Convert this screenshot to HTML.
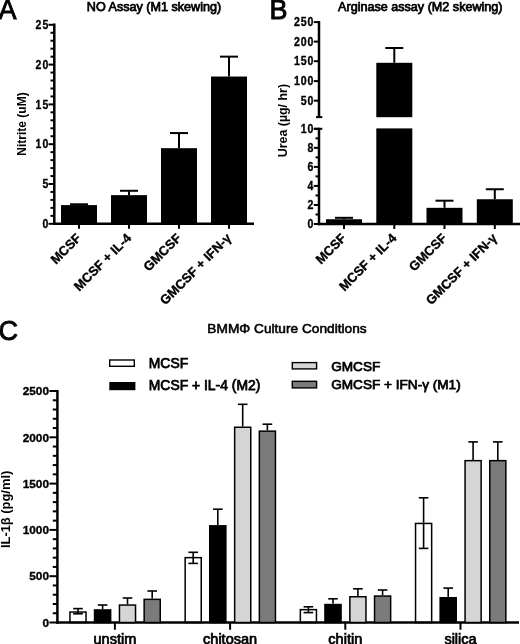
<!DOCTYPE html>
<html><head><meta charset="utf-8"><style>
html,body{margin:0;padding:0;background:#fff;width:520px;height:644px;overflow:hidden}
svg{display:block;filter:grayscale(1)}
text{font-family:"Liberation Sans",sans-serif;fill:#000}
</style></head><body>
<svg width="520" height="644" viewBox="0 0 520 644">
<text x="-1.50" y="18.50" font-size="27" font-weight="400" text-anchor="start" stroke="#000" stroke-width="0.9">A</text>
<text x="269.50" y="18.80" font-size="27" font-weight="400" text-anchor="start" stroke="#000" stroke-width="0.9">B</text>
<text x="-1.50" y="340.10" font-size="27" font-weight="400" text-anchor="start" stroke="#000" stroke-width="0.9">C</text>
<text x="154.00" y="10.70" font-size="12.6" font-weight="400" text-anchor="middle" stroke="#000" stroke-width="0.75">NO Assay (M1 skewing)</text>
<text x="420.30" y="10.70" font-size="12.6" font-weight="400" text-anchor="middle" stroke="#000" stroke-width="0.75">Arginase assay (M2 skewing)</text>
<text x="287.00" y="333.40" font-size="13.7" font-weight="400" text-anchor="middle" stroke="#000" stroke-width="0.6">BMMΦ Culture Conditions</text>
<line x1="54.30" y1="23.50" x2="54.30" y2="225.00" stroke="#000" stroke-width="2.5"/>
<line x1="53.10" y1="223.80" x2="254.00" y2="223.80" stroke="#000" stroke-width="2.5"/>
<line x1="48.50" y1="223.80" x2="54.30" y2="223.80" stroke="#000" stroke-width="2"/>
<text x="0" y="0" font-size="12.2" font-weight="700" text-anchor="end" letter-spacing="1.4" transform="translate(49.60,228.05) scale(0.86,1)" stroke="#000" stroke-width="0.35">0</text>
<line x1="50.50" y1="215.84" x2="54.30" y2="215.84" stroke="#000" stroke-width="2"/>
<line x1="50.50" y1="207.88" x2="54.30" y2="207.88" stroke="#000" stroke-width="2"/>
<line x1="50.50" y1="199.92" x2="54.30" y2="199.92" stroke="#000" stroke-width="2"/>
<line x1="50.50" y1="191.96" x2="54.30" y2="191.96" stroke="#000" stroke-width="2"/>
<line x1="48.50" y1="184.00" x2="54.30" y2="184.00" stroke="#000" stroke-width="2"/>
<text x="0" y="0" font-size="12.2" font-weight="700" text-anchor="end" letter-spacing="1.4" transform="translate(49.60,188.25) scale(0.86,1)" stroke="#000" stroke-width="0.35">5</text>
<line x1="50.50" y1="176.04" x2="54.30" y2="176.04" stroke="#000" stroke-width="2"/>
<line x1="50.50" y1="168.08" x2="54.30" y2="168.08" stroke="#000" stroke-width="2"/>
<line x1="50.50" y1="160.12" x2="54.30" y2="160.12" stroke="#000" stroke-width="2"/>
<line x1="50.50" y1="152.16" x2="54.30" y2="152.16" stroke="#000" stroke-width="2"/>
<line x1="48.50" y1="144.20" x2="54.30" y2="144.20" stroke="#000" stroke-width="2"/>
<text x="0" y="0" font-size="12.2" font-weight="700" text-anchor="end" letter-spacing="1.4" transform="translate(49.60,148.45) scale(0.86,1)" stroke="#000" stroke-width="0.35">10</text>
<line x1="50.50" y1="136.24" x2="54.30" y2="136.24" stroke="#000" stroke-width="2"/>
<line x1="50.50" y1="128.28" x2="54.30" y2="128.28" stroke="#000" stroke-width="2"/>
<line x1="50.50" y1="120.32" x2="54.30" y2="120.32" stroke="#000" stroke-width="2"/>
<line x1="50.50" y1="112.36" x2="54.30" y2="112.36" stroke="#000" stroke-width="2"/>
<line x1="48.50" y1="104.40" x2="54.30" y2="104.40" stroke="#000" stroke-width="2"/>
<text x="0" y="0" font-size="12.2" font-weight="700" text-anchor="end" letter-spacing="1.4" transform="translate(49.60,108.65) scale(0.86,1)" stroke="#000" stroke-width="0.35">15</text>
<line x1="50.50" y1="96.44" x2="54.30" y2="96.44" stroke="#000" stroke-width="2"/>
<line x1="50.50" y1="88.48" x2="54.30" y2="88.48" stroke="#000" stroke-width="2"/>
<line x1="50.50" y1="80.52" x2="54.30" y2="80.52" stroke="#000" stroke-width="2"/>
<line x1="50.50" y1="72.56" x2="54.30" y2="72.56" stroke="#000" stroke-width="2"/>
<line x1="48.50" y1="64.60" x2="54.30" y2="64.60" stroke="#000" stroke-width="2"/>
<text x="0" y="0" font-size="12.2" font-weight="700" text-anchor="end" letter-spacing="1.4" transform="translate(49.60,68.85) scale(0.86,1)" stroke="#000" stroke-width="0.35">20</text>
<line x1="50.50" y1="56.64" x2="54.30" y2="56.64" stroke="#000" stroke-width="2"/>
<line x1="50.50" y1="48.68" x2="54.30" y2="48.68" stroke="#000" stroke-width="2"/>
<line x1="50.50" y1="40.72" x2="54.30" y2="40.72" stroke="#000" stroke-width="2"/>
<line x1="50.50" y1="32.76" x2="54.30" y2="32.76" stroke="#000" stroke-width="2"/>
<line x1="48.50" y1="24.80" x2="54.30" y2="24.80" stroke="#000" stroke-width="2"/>
<text x="0" y="0" font-size="12.2" font-weight="700" text-anchor="end" letter-spacing="1.4" transform="translate(49.60,29.05) scale(0.86,1)" stroke="#000" stroke-width="0.35">25</text>
<line x1="79.00" y1="204.30" x2="79.00" y2="205.09" stroke="#000" stroke-width="2"/>
<line x1="70.00" y1="204.30" x2="88.00" y2="204.30" stroke="#000" stroke-width="2"/>
<rect x="61.00" y="205.09" width="36.00" height="18.71" fill="#000"/>
<line x1="79.00" y1="223.80" x2="79.00" y2="228.80" stroke="#000" stroke-width="2"/>
<line x1="129.00" y1="190.77" x2="129.00" y2="195.14" stroke="#000" stroke-width="2"/>
<line x1="120.00" y1="190.77" x2="138.00" y2="190.77" stroke="#000" stroke-width="2"/>
<rect x="111.00" y="195.14" width="36.00" height="28.66" fill="#000"/>
<line x1="129.00" y1="223.80" x2="129.00" y2="228.80" stroke="#000" stroke-width="2"/>
<line x1="179.00" y1="133.06" x2="179.00" y2="148.18" stroke="#000" stroke-width="2"/>
<line x1="170.00" y1="133.06" x2="188.00" y2="133.06" stroke="#000" stroke-width="2"/>
<rect x="161.00" y="148.18" width="36.00" height="75.62" fill="#000"/>
<line x1="179.00" y1="223.80" x2="179.00" y2="228.80" stroke="#000" stroke-width="2"/>
<line x1="229.00" y1="56.64" x2="229.00" y2="76.54" stroke="#000" stroke-width="2"/>
<line x1="220.00" y1="56.64" x2="238.00" y2="56.64" stroke="#000" stroke-width="2"/>
<rect x="211.00" y="76.54" width="36.00" height="147.26" fill="#000"/>
<line x1="229.00" y1="223.80" x2="229.00" y2="228.80" stroke="#000" stroke-width="2"/>
<text x="0.00" y="0.00" font-size="13" font-weight="700" text-anchor="end" stroke="#000" stroke-width="0.35" transform="translate(82.0,238.8) rotate(-45)">MCSF</text>
<text x="0.00" y="0.00" font-size="13" font-weight="700" text-anchor="end" stroke="#000" stroke-width="0.35" transform="translate(132.0,238.8) rotate(-45)">MCSF + IL-4</text>
<text x="0.00" y="0.00" font-size="13" font-weight="700" text-anchor="end" stroke="#000" stroke-width="0.35" transform="translate(182.0,238.8) rotate(-45)">GMCSF</text>
<text x="0.00" y="0.00" font-size="13" font-weight="700" text-anchor="end" stroke="#000" stroke-width="0.35" transform="translate(232.0,238.8) rotate(-45)">GMCSF + IFN-γ</text>
<text x="0.00" y="0.00" font-size="12" font-weight="700" text-anchor="middle" transform="translate(26.2,124) rotate(-90)">Nitrite (uM)</text>
<line x1="319.00" y1="21.10" x2="319.00" y2="117.10" stroke="#000" stroke-width="2.5"/>
<line x1="316.00" y1="117.10" x2="322.30" y2="117.10" stroke="#000" stroke-width="2"/>
<line x1="313.80" y1="22.10" x2="319.00" y2="22.10" stroke="#000" stroke-width="2"/>
<text x="0" y="0" font-size="12.0" font-weight="700" text-anchor="end" letter-spacing="1.0" transform="translate(314.28,26.20) scale(0.88,1)" stroke="#000" stroke-width="0.35">250</text>
<line x1="313.80" y1="41.60" x2="319.00" y2="41.60" stroke="#000" stroke-width="2"/>
<text x="0" y="0" font-size="12.0" font-weight="700" text-anchor="end" letter-spacing="1.0" transform="translate(314.28,45.70) scale(0.88,1)" stroke="#000" stroke-width="0.35">200</text>
<line x1="313.80" y1="61.20" x2="319.00" y2="61.20" stroke="#000" stroke-width="2"/>
<text x="0" y="0" font-size="12.0" font-weight="700" text-anchor="end" letter-spacing="1.0" transform="translate(314.28,65.30) scale(0.88,1)" stroke="#000" stroke-width="0.35">150</text>
<line x1="313.80" y1="81.10" x2="319.00" y2="81.10" stroke="#000" stroke-width="2"/>
<text x="0" y="0" font-size="12.0" font-weight="700" text-anchor="end" letter-spacing="1.0" transform="translate(314.28,85.20) scale(0.88,1)" stroke="#000" stroke-width="0.35">100</text>
<line x1="313.80" y1="100.70" x2="319.00" y2="100.70" stroke="#000" stroke-width="2"/>
<text x="0" y="0" font-size="12.0" font-weight="700" text-anchor="end" letter-spacing="1.0" transform="translate(314.28,104.80) scale(0.88,1)" stroke="#000" stroke-width="0.35">50</text>
<line x1="319.00" y1="127.80" x2="319.00" y2="225.20" stroke="#000" stroke-width="2.5"/>
<line x1="313.80" y1="128.80" x2="322.30" y2="128.80" stroke="#000" stroke-width="2"/>
<line x1="317.80" y1="224.00" x2="520.00" y2="224.00" stroke="#000" stroke-width="2.5"/>
<line x1="313.80" y1="224.00" x2="319.00" y2="224.00" stroke="#000" stroke-width="2"/>
<text x="0" y="0" font-size="12.0" font-weight="700" text-anchor="end" letter-spacing="1.0" transform="translate(314.28,228.10) scale(0.88,1)" stroke="#000" stroke-width="0.35">0</text>
<line x1="315.50" y1="214.48" x2="319.00" y2="214.48" stroke="#000" stroke-width="2"/>
<line x1="313.80" y1="204.96" x2="319.00" y2="204.96" stroke="#000" stroke-width="2"/>
<text x="0" y="0" font-size="12.0" font-weight="700" text-anchor="end" letter-spacing="1.0" transform="translate(314.28,209.06) scale(0.88,1)" stroke="#000" stroke-width="0.35">2</text>
<line x1="315.50" y1="195.44" x2="319.00" y2="195.44" stroke="#000" stroke-width="2"/>
<line x1="313.80" y1="185.92" x2="319.00" y2="185.92" stroke="#000" stroke-width="2"/>
<text x="0" y="0" font-size="12.0" font-weight="700" text-anchor="end" letter-spacing="1.0" transform="translate(314.28,190.02) scale(0.88,1)" stroke="#000" stroke-width="0.35">4</text>
<line x1="315.50" y1="176.40" x2="319.00" y2="176.40" stroke="#000" stroke-width="2"/>
<line x1="313.80" y1="166.88" x2="319.00" y2="166.88" stroke="#000" stroke-width="2"/>
<text x="0" y="0" font-size="12.0" font-weight="700" text-anchor="end" letter-spacing="1.0" transform="translate(314.28,170.98) scale(0.88,1)" stroke="#000" stroke-width="0.35">6</text>
<line x1="315.50" y1="157.36" x2="319.00" y2="157.36" stroke="#000" stroke-width="2"/>
<line x1="313.80" y1="147.84" x2="319.00" y2="147.84" stroke="#000" stroke-width="2"/>
<text x="0" y="0" font-size="12.0" font-weight="700" text-anchor="end" letter-spacing="1.0" transform="translate(314.28,151.94) scale(0.88,1)" stroke="#000" stroke-width="0.35">8</text>
<line x1="315.50" y1="138.32" x2="319.00" y2="138.32" stroke="#000" stroke-width="2"/>
<line x1="313.80" y1="128.80" x2="319.00" y2="128.80" stroke="#000" stroke-width="2"/>
<text x="0" y="0" font-size="12.0" font-weight="700" text-anchor="end" letter-spacing="1.0" transform="translate(314.28,132.90) scale(0.88,1)" stroke="#000" stroke-width="0.35">10</text>
<line x1="344.00" y1="217.81" x2="344.00" y2="219.24" stroke="#000" stroke-width="2"/>
<line x1="335.00" y1="217.81" x2="353.00" y2="217.81" stroke="#000" stroke-width="2"/>
<rect x="326.00" y="219.24" width="36.00" height="4.76" fill="#000"/>
<line x1="444.50" y1="200.68" x2="444.50" y2="207.82" stroke="#000" stroke-width="2"/>
<line x1="435.50" y1="200.68" x2="453.50" y2="200.68" stroke="#000" stroke-width="2"/>
<rect x="426.50" y="207.82" width="36.00" height="16.18" fill="#000"/>
<line x1="494.80" y1="189.25" x2="494.80" y2="199.25" stroke="#000" stroke-width="2"/>
<line x1="485.80" y1="189.25" x2="503.80" y2="189.25" stroke="#000" stroke-width="2"/>
<rect x="476.80" y="199.25" width="36.00" height="24.75" fill="#000"/>
<line x1="394.30" y1="48.00" x2="394.30" y2="62.80" stroke="#000" stroke-width="2"/>
<line x1="385.30" y1="48.00" x2="403.30" y2="48.00" stroke="#000" stroke-width="2"/>
<rect x="376.30" y="62.80" width="36.00" height="54.40" fill="#000"/>
<rect x="376.30" y="128.40" width="36.00" height="95.60" fill="#000"/>
<line x1="344.00" y1="224.00" x2="344.00" y2="229.00" stroke="#000" stroke-width="2"/>
<line x1="394.30" y1="224.00" x2="394.30" y2="229.00" stroke="#000" stroke-width="2"/>
<line x1="444.50" y1="224.00" x2="444.50" y2="229.00" stroke="#000" stroke-width="2"/>
<line x1="494.80" y1="224.00" x2="494.80" y2="229.00" stroke="#000" stroke-width="2"/>
<text x="0.00" y="0.00" font-size="13" font-weight="700" text-anchor="end" stroke="#000" stroke-width="0.35" transform="translate(347.0,238.8) rotate(-45)">MCSF</text>
<text x="0.00" y="0.00" font-size="13" font-weight="700" text-anchor="end" stroke="#000" stroke-width="0.35" transform="translate(397.3,238.8) rotate(-45)">MCSF + IL-4</text>
<text x="0.00" y="0.00" font-size="13" font-weight="700" text-anchor="end" stroke="#000" stroke-width="0.35" transform="translate(447.5,238.8) rotate(-45)">GMCSF</text>
<text x="0.00" y="0.00" font-size="13" font-weight="700" text-anchor="end" stroke="#000" stroke-width="0.35" transform="translate(497.8,238.8) rotate(-45)">GMCSF + IFN-γ</text>
<text x="0.00" y="0.00" font-size="12.4" font-weight="700" text-anchor="middle" transform="translate(286.8,120.6) rotate(-90)">Urea (µg/ hr)</text>
<line x1="57.40" y1="390.00" x2="57.40" y2="623.70" stroke="#000" stroke-width="2.5"/>
<line x1="56.20" y1="622.50" x2="519.00" y2="622.50" stroke="#000" stroke-width="2.5"/>
<line x1="49.40" y1="622.50" x2="57.40" y2="622.50" stroke="#000" stroke-width="2"/>
<text x="49.00" y="626.70" font-size="11.8" font-weight="700" text-anchor="end" stroke="#000" stroke-width="0.35">0</text>
<line x1="52.80" y1="613.24" x2="57.40" y2="613.24" stroke="#000" stroke-width="2"/>
<line x1="52.80" y1="603.98" x2="57.40" y2="603.98" stroke="#000" stroke-width="2"/>
<line x1="52.80" y1="594.72" x2="57.40" y2="594.72" stroke="#000" stroke-width="2"/>
<line x1="52.80" y1="585.46" x2="57.40" y2="585.46" stroke="#000" stroke-width="2"/>
<line x1="49.40" y1="576.20" x2="57.40" y2="576.20" stroke="#000" stroke-width="2"/>
<text x="49.00" y="580.40" font-size="11.8" font-weight="700" text-anchor="end" stroke="#000" stroke-width="0.35">500</text>
<line x1="52.80" y1="566.94" x2="57.40" y2="566.94" stroke="#000" stroke-width="2"/>
<line x1="52.80" y1="557.68" x2="57.40" y2="557.68" stroke="#000" stroke-width="2"/>
<line x1="52.80" y1="548.42" x2="57.40" y2="548.42" stroke="#000" stroke-width="2"/>
<line x1="52.80" y1="539.16" x2="57.40" y2="539.16" stroke="#000" stroke-width="2"/>
<line x1="49.40" y1="529.90" x2="57.40" y2="529.90" stroke="#000" stroke-width="2"/>
<text x="49.00" y="534.10" font-size="11.8" font-weight="700" text-anchor="end" stroke="#000" stroke-width="0.35">1000</text>
<line x1="52.80" y1="520.64" x2="57.40" y2="520.64" stroke="#000" stroke-width="2"/>
<line x1="52.80" y1="511.38" x2="57.40" y2="511.38" stroke="#000" stroke-width="2"/>
<line x1="52.80" y1="502.12" x2="57.40" y2="502.12" stroke="#000" stroke-width="2"/>
<line x1="52.80" y1="492.86" x2="57.40" y2="492.86" stroke="#000" stroke-width="2"/>
<line x1="49.40" y1="483.60" x2="57.40" y2="483.60" stroke="#000" stroke-width="2"/>
<text x="49.00" y="487.80" font-size="11.8" font-weight="700" text-anchor="end" stroke="#000" stroke-width="0.35">1500</text>
<line x1="52.80" y1="474.34" x2="57.40" y2="474.34" stroke="#000" stroke-width="2"/>
<line x1="52.80" y1="465.08" x2="57.40" y2="465.08" stroke="#000" stroke-width="2"/>
<line x1="52.80" y1="455.82" x2="57.40" y2="455.82" stroke="#000" stroke-width="2"/>
<line x1="52.80" y1="446.56" x2="57.40" y2="446.56" stroke="#000" stroke-width="2"/>
<line x1="49.40" y1="437.30" x2="57.40" y2="437.30" stroke="#000" stroke-width="2"/>
<text x="49.00" y="441.50" font-size="11.8" font-weight="700" text-anchor="end" stroke="#000" stroke-width="0.35">2000</text>
<line x1="52.80" y1="428.04" x2="57.40" y2="428.04" stroke="#000" stroke-width="2"/>
<line x1="52.80" y1="418.78" x2="57.40" y2="418.78" stroke="#000" stroke-width="2"/>
<line x1="52.80" y1="409.52" x2="57.40" y2="409.52" stroke="#000" stroke-width="2"/>
<line x1="52.80" y1="400.26" x2="57.40" y2="400.26" stroke="#000" stroke-width="2"/>
<line x1="49.40" y1="391.00" x2="57.40" y2="391.00" stroke="#000" stroke-width="2"/>
<text x="49.00" y="395.20" font-size="11.8" font-weight="700" text-anchor="end" stroke="#000" stroke-width="0.35">2500</text>
<line x1="78.00" y1="608.60" x2="78.00" y2="611.30" stroke="#000" stroke-width="1.6"/>
<line x1="73.20" y1="608.60" x2="82.80" y2="608.60" stroke="#000" stroke-width="1.6"/>
<line x1="78.00" y1="611.30" x2="78.00" y2="613.80" stroke="#000" stroke-width="1.6"/>
<line x1="73.20" y1="613.80" x2="82.80" y2="613.80" stroke="#000" stroke-width="1.6"/>
<rect x="69.95" y="612.05" width="16.10" height="10.45" fill="none" stroke="#000" stroke-width="1.5"/>
<line x1="102.60" y1="605.00" x2="102.60" y2="609.20" stroke="#000" stroke-width="1.6"/>
<line x1="97.80" y1="605.00" x2="107.40" y2="605.00" stroke="#000" stroke-width="1.6"/>
<rect x="94.55" y="609.95" width="16.10" height="12.55" fill="#000" stroke="#000" stroke-width="1.5"/>
<line x1="127.50" y1="598.00" x2="127.50" y2="604.30" stroke="#000" stroke-width="1.6"/>
<line x1="122.70" y1="598.00" x2="132.30" y2="598.00" stroke="#000" stroke-width="1.6"/>
<rect x="119.45" y="605.05" width="16.10" height="17.45" fill="#d5d5d5" stroke="#000" stroke-width="1.5"/>
<line x1="152.20" y1="591.00" x2="152.20" y2="598.60" stroke="#000" stroke-width="1.6"/>
<line x1="147.40" y1="591.00" x2="157.00" y2="591.00" stroke="#000" stroke-width="1.6"/>
<rect x="144.15" y="599.35" width="16.10" height="23.15" fill="#7b7b7b" stroke="#000" stroke-width="1.5"/>
<line x1="114.90" y1="622.50" x2="114.90" y2="629.70" stroke="#000" stroke-width="2"/>
<line x1="193.20" y1="552.30" x2="193.20" y2="556.90" stroke="#000" stroke-width="1.6"/>
<line x1="188.40" y1="552.30" x2="198.00" y2="552.30" stroke="#000" stroke-width="1.6"/>
<line x1="193.20" y1="556.90" x2="193.20" y2="563.40" stroke="#000" stroke-width="1.6"/>
<line x1="188.40" y1="563.40" x2="198.00" y2="563.40" stroke="#000" stroke-width="1.6"/>
<rect x="185.15" y="557.65" width="16.10" height="64.85" fill="none" stroke="#000" stroke-width="1.5"/>
<line x1="217.80" y1="509.20" x2="217.80" y2="525.10" stroke="#000" stroke-width="1.6"/>
<line x1="213.00" y1="509.20" x2="222.60" y2="509.20" stroke="#000" stroke-width="1.6"/>
<rect x="209.75" y="525.85" width="16.10" height="96.65" fill="#000" stroke="#000" stroke-width="1.5"/>
<line x1="242.70" y1="404.30" x2="242.70" y2="426.50" stroke="#000" stroke-width="1.6"/>
<line x1="237.90" y1="404.30" x2="247.50" y2="404.30" stroke="#000" stroke-width="1.6"/>
<rect x="234.65" y="427.25" width="16.10" height="195.25" fill="#d5d5d5" stroke="#000" stroke-width="1.5"/>
<line x1="267.40" y1="424.20" x2="267.40" y2="430.40" stroke="#000" stroke-width="1.6"/>
<line x1="262.60" y1="424.20" x2="272.20" y2="424.20" stroke="#000" stroke-width="1.6"/>
<rect x="259.35" y="431.15" width="16.10" height="191.35" fill="#7b7b7b" stroke="#000" stroke-width="1.5"/>
<line x1="230.10" y1="622.50" x2="230.10" y2="629.70" stroke="#000" stroke-width="2"/>
<line x1="308.40" y1="606.80" x2="308.40" y2="608.90" stroke="#000" stroke-width="1.6"/>
<line x1="303.60" y1="606.80" x2="313.20" y2="606.80" stroke="#000" stroke-width="1.6"/>
<line x1="308.40" y1="608.90" x2="308.40" y2="612.60" stroke="#000" stroke-width="1.6"/>
<line x1="303.60" y1="612.60" x2="313.20" y2="612.60" stroke="#000" stroke-width="1.6"/>
<rect x="300.35" y="609.65" width="16.10" height="12.85" fill="none" stroke="#000" stroke-width="1.5"/>
<line x1="333.00" y1="598.80" x2="333.00" y2="603.80" stroke="#000" stroke-width="1.6"/>
<line x1="328.20" y1="598.80" x2="337.80" y2="598.80" stroke="#000" stroke-width="1.6"/>
<rect x="324.95" y="604.55" width="16.10" height="17.95" fill="#000" stroke="#000" stroke-width="1.5"/>
<line x1="357.90" y1="588.80" x2="357.90" y2="596.00" stroke="#000" stroke-width="1.6"/>
<line x1="353.10" y1="588.80" x2="362.70" y2="588.80" stroke="#000" stroke-width="1.6"/>
<rect x="349.85" y="596.75" width="16.10" height="25.75" fill="#d5d5d5" stroke="#000" stroke-width="1.5"/>
<line x1="382.60" y1="590.00" x2="382.60" y2="595.30" stroke="#000" stroke-width="1.6"/>
<line x1="377.80" y1="590.00" x2="387.40" y2="590.00" stroke="#000" stroke-width="1.6"/>
<rect x="374.55" y="596.05" width="16.10" height="26.45" fill="#7b7b7b" stroke="#000" stroke-width="1.5"/>
<line x1="345.30" y1="622.50" x2="345.30" y2="629.70" stroke="#000" stroke-width="2"/>
<line x1="423.60" y1="497.80" x2="423.60" y2="522.70" stroke="#000" stroke-width="1.6"/>
<line x1="418.80" y1="497.80" x2="428.40" y2="497.80" stroke="#000" stroke-width="1.6"/>
<line x1="423.60" y1="522.70" x2="423.60" y2="548.40" stroke="#000" stroke-width="1.6"/>
<line x1="418.80" y1="548.40" x2="428.40" y2="548.40" stroke="#000" stroke-width="1.6"/>
<rect x="415.55" y="523.45" width="16.10" height="99.05" fill="none" stroke="#000" stroke-width="1.5"/>
<line x1="448.20" y1="588.10" x2="448.20" y2="597.00" stroke="#000" stroke-width="1.6"/>
<line x1="443.40" y1="588.10" x2="453.00" y2="588.10" stroke="#000" stroke-width="1.6"/>
<rect x="440.15" y="597.75" width="16.10" height="24.75" fill="#000" stroke="#000" stroke-width="1.5"/>
<line x1="473.10" y1="441.90" x2="473.10" y2="459.90" stroke="#000" stroke-width="1.6"/>
<line x1="468.30" y1="441.90" x2="477.90" y2="441.90" stroke="#000" stroke-width="1.6"/>
<rect x="465.05" y="460.65" width="16.10" height="161.85" fill="#d5d5d5" stroke="#000" stroke-width="1.5"/>
<line x1="497.80" y1="441.90" x2="497.80" y2="459.90" stroke="#000" stroke-width="1.6"/>
<line x1="493.00" y1="441.90" x2="502.60" y2="441.90" stroke="#000" stroke-width="1.6"/>
<rect x="489.75" y="460.65" width="16.10" height="161.85" fill="#7b7b7b" stroke="#000" stroke-width="1.5"/>
<line x1="460.50" y1="622.50" x2="460.50" y2="629.70" stroke="#000" stroke-width="2"/>
<text x="114.90" y="644.20" font-size="14.5" font-weight="400" text-anchor="middle" stroke="#000" stroke-width="0.75">unstim</text>
<text x="230.10" y="644.20" font-size="14.5" font-weight="400" text-anchor="middle" stroke="#000" stroke-width="0.75">chitosan</text>
<text x="345.30" y="644.20" font-size="14.5" font-weight="400" text-anchor="middle" stroke="#000" stroke-width="0.75">chitin</text>
<text x="460.50" y="644.20" font-size="14.5" font-weight="400" text-anchor="middle" stroke="#000" stroke-width="0.75">silica</text>
<text x="0.00" y="0.00" font-size="12.9" font-weight="700" text-anchor="middle" transform="translate(9.9,509.4) rotate(-90)">IL-1β (pg/ml)</text>
<rect x="109.70" y="360.00" width="24.60" height="6.30" fill="#fff" stroke="#000" stroke-width="1.4"/>
<rect x="110.00" y="382.70" width="24.70" height="6.80" fill="#000" stroke="#000" stroke-width="1.4"/>
<rect x="292.30" y="362.60" width="24.30" height="6.30" fill="#d5d5d5" stroke="#000" stroke-width="1.4"/>
<rect x="292.30" y="381.30" width="24.30" height="6.60" fill="#7b7b7b" stroke="#000" stroke-width="1.4"/>
<text x="148.80" y="368.00" font-size="13.9" font-weight="400" text-anchor="start" stroke="#000" stroke-width="0.75">MCSF</text>
<text x="148.80" y="390.20" font-size="13.9" font-weight="400" text-anchor="start" stroke="#000" stroke-width="0.75">MCSF + IL-4 (M2)</text>
<text x="331.20" y="371.00" font-size="13.6" font-weight="400" text-anchor="start" stroke="#000" stroke-width="0.75">GMCSF</text>
<text x="331.20" y="388.60" font-size="13.6" font-weight="400" text-anchor="start" stroke="#000" stroke-width="0.75">GMCSF + IFN-γ (M1)</text>
</svg>
</body></html>
